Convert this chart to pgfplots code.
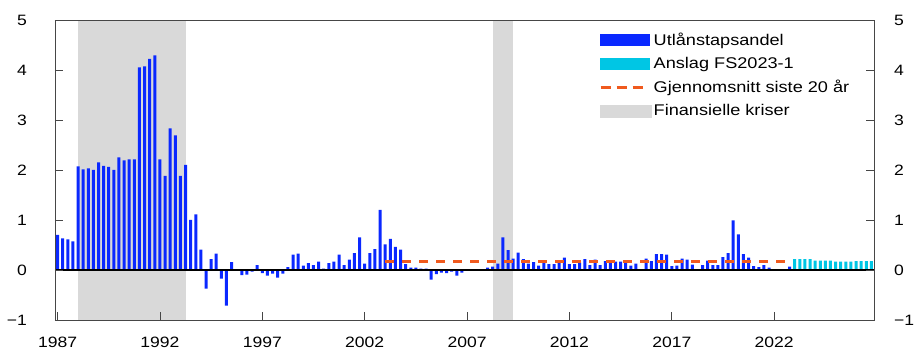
\documentclass[border=0pt]{standalone}
\usepackage{pgfplots}
\pgfplotsset{compat=1.18}
\usepackage{fontspec}
\setmainfont{Liberation Sans}[FakeStretch=1.17]
\definecolor{barblue}{RGB}{10,40,255}
\definecolor{barcyan}{RGB}{0,198,228}
\definecolor{dashor}{RGB}{240,90,30}
\definecolor{shadegray}{RGB}{217,217,217}
\definecolor{framegray}{RGB}{70,70,70}
\begin{document}
\fontsize{15}{18}\selectfont
\begin{tikzpicture}[font=\fontsize{15}{18}\selectfont]
\useasboundingbox (-55pt,-31pt) rectangle ++(916pt,351pt);
\begin{axis}[
  at={(0pt,0pt)}, anchor=south west,
  scale only axis, width=819pt, height=300pt,
  xmin=1986.875, xmax=2026.875, ymin=-1, ymax=5,
  axis on top,
  axis line style={framegray, line width=0.8pt},
  xtick={1987,1992,1997,2002,2007,2012,2017,2022},
  xticklabels={1987,1992,1997,2002,2007,2012,2017,2022},
  ytick={-1,0,1,2,3,4,5},
  yticklabels={−1,0,1,2,3,4,5},
  tick align=inside, major tick length=8pt, tick pos=left,
  tick style={framegray, line width=0.8pt},
  yticklabel style={xshift=-23pt},
  xticklabel style={yshift=-12pt},
  legend cell align=left,
  legend style={draw=none, fill=none, at={(0.664,0.965)}, anchor=north west,
    inner sep=0pt, row sep=5.5pt, font=\fontsize{15.5}{18}\selectfont},
]
\addlegendimage{legend image code/.code={\fill[barblue] (0pt,-5.5pt) rectangle (49pt,5.5pt);}}
\addlegendentry{Utlånstapsandel}
\addlegendimage{legend image code/.code={\fill[barcyan] (0pt,-5.5pt) rectangle (49pt,5.5pt);}}
\addlegendentry{Anslag FS2023-1}
\addlegendimage{legend image code/.code={\draw[dashor, line width=3pt, dash pattern=on 10pt off 6pt] (0pt,0pt) -- (43pt,0pt);}}
\addlegendentry{Gjennomsnitt siste 20 år}
\addlegendimage{legend image code/.code={\fill[shadegray] (0pt,-6pt) rectangle (51pt,6pt);}}
\addlegendentry{Finansielle kriser}

% crisis shading
\addplot[fill=shadegray, draw=none, forget plot] coordinates {(1988,-1) (1988,5) (1993.25,5) (1993.25,-1)};
\addplot[fill=shadegray, draw=none, forget plot] coordinates {(2008.25,-1) (2008.25,5) (2009.25,5) (2009.25,-1)};

% loan loss share
\addplot[ybar, bar width=3pt, bar shift=0pt, fill=barblue, draw=none, forget plot] coordinates {
(1987.00,0.70) (1987.25,0.63) (1987.50,0.61) (1987.75,0.57)
(1988.00,2.07) (1988.25,2.01) (1988.50,2.03) (1988.75,2.00)
(1989.00,2.15) (1989.25,2.08) (1989.50,2.06) (1989.75,2.00)
(1990.00,2.25) (1990.25,2.19) (1990.50,2.21) (1990.75,2.21)
(1991.00,4.05) (1991.25,4.07) (1991.50,4.22) (1991.75,4.29)
(1992.00,2.21) (1992.25,1.88) (1992.50,2.83) (1992.75,2.69)
(1993.00,1.88) (1993.25,2.10) (1993.50,1.00) (1993.75,1.11)
(1994.00,0.41) (1994.25,-0.37) (1994.50,0.22) (1994.75,0.33)
(1995.00,-0.17) (1995.25,-0.71) (1995.50,0.16) (1995.75,0.00)
(1996.00,-0.10) (1996.25,-0.09) (1996.50,-0.03) (1996.75,0.10)
(1997.00,-0.06) (1997.25,-0.11) (1997.50,-0.07) (1997.75,-0.15)
(1998.00,-0.07) (1998.25,0.06) (1998.50,0.31) (1998.75,0.33)
(1999.00,0.09) (1999.25,0.14) (1999.50,0.10) (1999.75,0.17)
(2000.00,0.03) (2000.25,0.14) (2000.50,0.17) (2000.75,0.31)
(2001.00,0.10) (2001.25,0.21) (2001.50,0.34) (2001.75,0.65)
(2002.00,0.13) (2002.25,0.34) (2002.50,0.42) (2002.75,1.20)
(2003.00,0.51) (2003.25,0.62) (2003.50,0.46) (2003.75,0.41)
(2004.00,0.12) (2004.25,0.05) (2004.50,0.05) (2004.75,0.03)
(2005.00,0.03) (2005.25,-0.19) (2005.50,-0.08) (2005.75,-0.05)
(2006.00,-0.06) (2006.25,-0.03) (2006.50,-0.11) (2006.75,-0.05)
(2007.00,0.00) (2007.25,0.01) (2007.50,0.01) (2007.75,0.02)
(2008.00,0.05) (2008.25,0.07) (2008.50,0.13) (2008.75,0.65)
(2009.00,0.40) (2009.25,0.23) (2009.50,0.35) (2009.75,0.22)
(2010.00,0.13) (2010.25,0.16) (2010.50,0.09) (2010.75,0.15)
(2011.00,0.12) (2011.25,0.12) (2011.50,0.17) (2011.75,0.25)
(2012.00,0.12) (2012.25,0.12) (2012.50,0.15) (2012.75,0.22)
(2013.00,0.10) (2013.25,0.21) (2013.50,0.10) (2013.75,0.18)
(2014.00,0.18) (2014.25,0.17) (2014.50,0.17) (2014.75,0.18)
(2015.00,0.09) (2015.25,0.13) (2015.50,0.02) (2015.75,0.23)
(2016.00,0.18) (2016.25,0.32) (2016.50,0.32) (2016.75,0.31)
(2017.00,0.08) (2017.25,0.09) (2017.50,0.23) (2017.75,0.21)
(2018.00,0.11) (2018.25,0.01) (2018.50,0.10) (2018.75,0.19)
(2019.00,0.10) (2019.25,0.10) (2019.50,0.26) (2019.75,0.34)
(2020.00,0.99) (2020.25,0.71) (2020.50,0.32) (2020.75,0.25)
(2021.00,0.08) (2021.25,0.06) (2021.50,0.10) (2021.75,0.05)
(2022.00,0.01) (2022.25,0.00) (2022.50,0.02) (2022.75,0.07)
};

% forecast
\addplot[ybar, bar width=3pt, bar shift=0pt, fill=barcyan, draw=none, forget plot] coordinates {
(2023.00,0.22) (2023.25,0.22) (2023.50,0.22) (2023.75,0.22)
(2024.00,0.19) (2024.25,0.19) (2024.50,0.19) (2024.75,0.19)
(2025.00,0.17) (2025.25,0.17) (2025.50,0.17) (2025.75,0.17)
(2026.00,0.18) (2026.25,0.18) (2026.50,0.18) (2026.75,0.18)
};

% 20-year average
\addplot[dashor, line width=3pt, dash pattern=on 9pt off 8pt, forget plot] coordinates {(2003.00,0.18) (2022.75,0.18)};

% zero line
\addplot[black, line width=1.2pt, forget plot] coordinates {(1986.875,0) (2026.875,0)};
\end{axis}
\begin{axis}[
  at={(0pt,0pt)}, anchor=south west,
  scale only axis, width=819pt, height=300pt,
  xmin=1986.875, xmax=2026.875, ymin=-1, ymax=5,
  hide x axis, axis y line*=right,
  axis line style={framegray, line width=0.8pt},
  ytick={-1,0,1,2,3,4,5},
  yticklabels={−1,0,1,2,3,4,5},
  tick align=inside, major tick length=8pt,
  tick style={framegray, line width=0.8pt},
  yticklabel style={inner xsep=0pt, xshift=20pt},
]
\end{axis}
\end{tikzpicture}
\end{document}
